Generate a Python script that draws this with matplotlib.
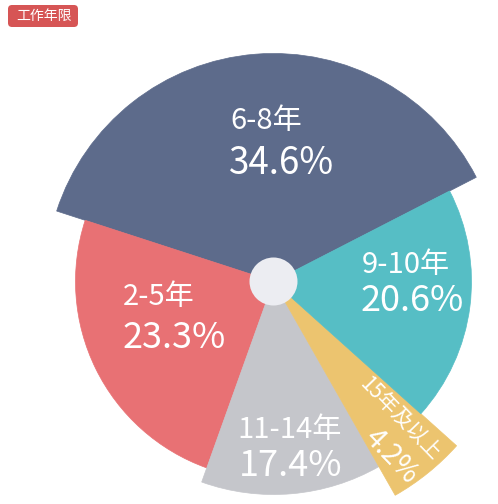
import numpy as np
import matplotlib.pyplot as plt
from matplotlib.patches import Wedge, Circle, FancyBboxPatch

plt.rcParams['font.family'] = ['Noto Sans CJK SC', 'DejaVu Sans']

# slices in drawing order, counterclockwise from the navy one
labels = ['6-8年', '2-5年', '11-14年', '15年及以上', '9-10年']
shares = [34.6, 23.3, 17.4, 4.2, 20.6]
sweep = [134.8, 88.3, 49.35, 18.45, 69.1]   # angle each slice takes in the picture (deg)
radius = [228, 198, 213, 246, 198]          # outer radius of each slice (px)
colors = ['#5d6b8b', '#e87174', '#c5c6cb', '#ecc46f', '#56bec5']

W, H = 498, 504
cx, cy = 273.5, 281.5
start_angle = 27.2

def py(y):
    return H - y

fig = plt.figure(figsize=(W / 100, H / 100), dpi=100)
ax = fig.add_axes([0, 0, 1, 1])
ax.set_xlim(0, W)
ax.set_ylim(0, H)
ax.set_aspect('equal')
ax.axis('off')

ends = start_angle + np.cumsum(sweep)
starts = ends - np.array(sweep)
for t1, t2, r, c in zip(starts, ends, radius, colors):
    ax.add_patch(Wedge((cx, py(cy)), r, t1, t2, facecolor=c, edgecolor=c, lw=0.5))

ax.add_patch(Circle((cx, py(cy)), 24, facecolor='#ecedf2', edgecolor='none'))

# label layout: (name x, name y, pct x, pct y, name size, pct size, rotation)
layout = [
    (266, 121, 282, 163, 21, 26.5, 0),
    (159, 297, 174, 338, 21, 26, 0),
    (290, 430, 291, 466, 21, 26, 0),
    (400, 419, 391, 456, 15, 20, -46),
    (406, 265, 412, 301, 21, 26, 0),
]
for name, pct, (nx, ny, px, pp, ns, ps, rot) in zip(labels, shares, layout):
    ax.text(nx, py(ny), name, color='white', fontsize=ns, ha='center', va='center',
            rotation=rot, rotation_mode='anchor', fontweight='light')
    ax.text(px, py(pp), f'{pct}%', color='white', fontsize=ps, ha='center', va='center',
            rotation=rot, rotation_mode='anchor', fontweight='light')

# title badge
ax.add_patch(FancyBboxPatch((8, py(27)), 70, 22, boxstyle='round,pad=0,rounding_size=4',
                            facecolor='#d65555', edgecolor='none'))
ax.text(44, py(16), '工作年限', color='white', fontsize=10, ha='center', va='center')

fig.savefig('out.png', dpi=100)
